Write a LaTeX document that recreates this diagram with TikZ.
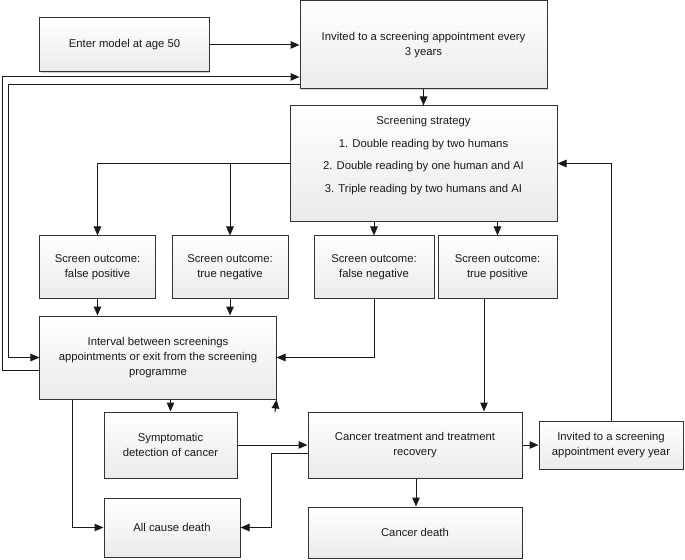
\documentclass[tikz,border=0pt]{standalone}
\usepackage{fontspec}
\setmainfont{Liberation Sans}
\usetikzlibrary{arrows.meta,shadows}

\tikzset{
	box/.style={draw=black!80, line width=1bp, top color=white, bottom color=black!8,
		drop shadow={shadow xshift=0.8bp, shadow yshift=-0.8bp, opacity=0.35},
		align=center, text=black!90, inner sep=0pt, font=\fontsize{11.3bp}{15bp}\selectfont},
	boxtext/.style={align=center, text=black!90, inner sep=0pt, font=\fontsize{11.3bp}{15bp}\selectfont},
	arr/.style={draw=black!90, line width=1bp, -{Triangle[length=9bp,width=7.5bp]}}
}

\begin{document}
\begin{tikzpicture}[x=1bp, y=-1bp]
	\useasboundingbox (0,0) rectangle (685,560);
	% boxes
	\node[box, minimum width=169bp, minimum height=54bp] (enter) at (124.5,45) {Enter model at age 50};
	\node[box, minimum width=247bp, minimum height=88bp] (inv3) at (423.5,45) {Invited to a screening appointment every\\3 years};
	\node[box, minimum width=267bp, minimum height=115bp] (strat) at (423.5,163.5) {};
	\node[boxtext, anchor=north] (strattext) at (423.5,116) {Screening strategy\\[7.7bp]1. Double reading by two humans\\[7.7bp]2. Double reading by one human and AI\\[7.7bp]3. Triple reading by two humans and AI};
	\node[box, minimum width=115bp, minimum height=62bp] (fp) at (97.5,267) {Screen outcome:\\false positive};
	\node[box, minimum width=116bp, minimum height=62bp] (tn) at (230,267) {Screen outcome:\\true negative};
	\node[box, minimum width=120bp, minimum height=62bp] (fn) at (374,267) {Screen outcome:\\false negative};
	\node[box, minimum width=119bp, minimum height=62bp] (tp) at (497.5,267) {Screen outcome:\\true positive};
	\node[box, minimum width=236bp, minimum height=83bp] (interval) at (158,357.5) {Interval between screenings\\appointments or exit from the screening\\programme};
	\node[box, minimum width=133bp, minimum height=66bp] (symp) at (170.5,445) {Symptomatic\\detection of cancer};
	\node[box, minimum width=214bp, minimum height=66bp] (treat) at (415,445) {Cancer treatment and treatment\\recovery};
	\node[box, minimum width=144bp, minimum height=48bp] (yearly) at (611,445) {Invited to a screening\\appointment every year};
	\node[box, minimum width=136bp, minimum height=59bp] (allc) at (172,527.5) {All cause death};
	\node[box, minimum width=214bp, minimum height=51bp] (cdeath) at (415,532.5) {Cancer death};
	\coordinate (tip) at (275,412);

	% connectors
	\draw[arr] (enter) -- (inv3);
	\draw[arr] (inv3) -- (strat);
	\draw[arr] (interval.west |- 0,370) -- (2,370) -- (2,77) -- (inv3.west |- 0,77);
	\draw[arr] (inv3.west |- 0,85) -- (8,85) |- (interval.west);
	\draw[arr] (strat.west) -| (fp.north);
	\draw[arr] (strat.west) -| (tn.north);
	\draw[arr] (fn.north |- strat.south) -- (fn.north);
	\draw[arr] (tp.north |- strat.south) -- (tp.north);
	\draw[arr] (fp) -- (fp |- interval.north);
	\draw[arr] (tn) -- (tn |- interval.north);
	\draw[arr] (fn.south) |- (interval.east);
	\draw[arr] ([xshift=-13.5bp]tp.south) -- ([xshift=-13.5bp]tp.south |- treat.north);
	\draw[arr] (symp.north |- interval.south) -- (symp.north);
	\draw[arr] (interval.south -| 72,0) |- (allc.west);
	\draw[arr] (tip) -- (interval.south east);
	\draw[arr] (symp) -- (treat);
	\draw[arr] (treat.west |- 0,453) -- (271,453) |- (allc.east);
	\draw[arr] (treat.south -| 416,0) -- (cdeath.north -| 416,0);
	\draw[arr] (treat) -- (yearly);
	\draw[arr] (yearly.north) |- (strat.east);
\end{tikzpicture}
\end{document}
